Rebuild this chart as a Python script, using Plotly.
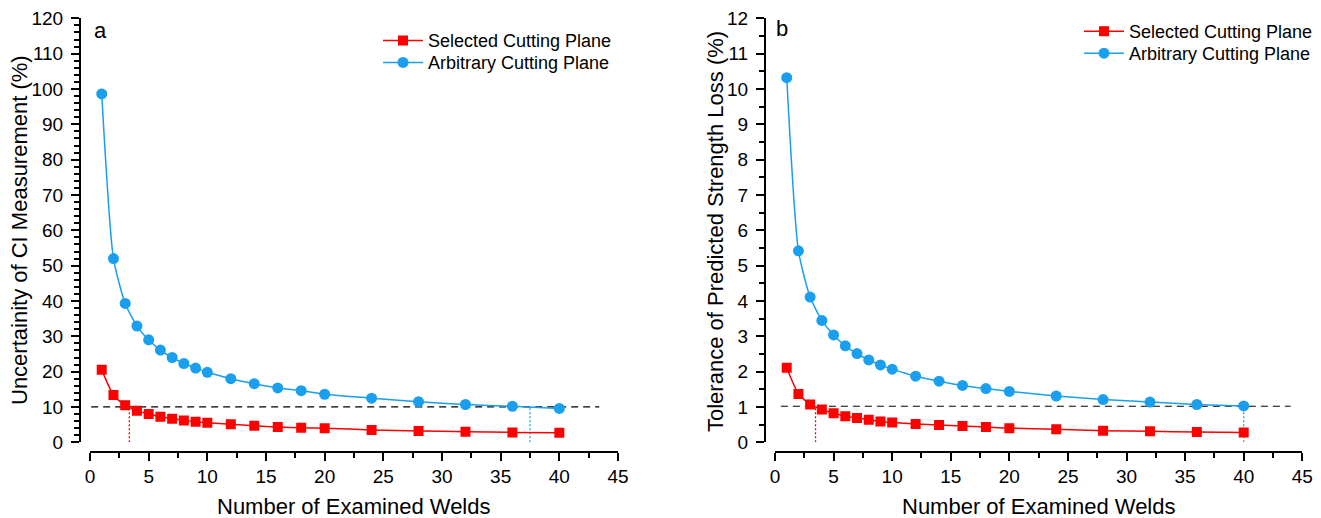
import plotly.graph_objects as go

# ---------------- data ----------------
x_welds = [1, 2, 3, 4, 5, 6, 7, 8, 9, 10, 12, 14, 16, 18, 20, 24, 28, 32, 36, 40]

a_selected = [20.5, 13.4, 10.5, 8.9, 8.0, 7.2, 6.7, 6.2, 5.8, 5.5,
              5.1, 4.7, 4.3, 4.1, 4.0, 3.5, 3.2, 3.0, 2.8, 2.7]
a_arbitrary = [98.6, 52.0, 39.3, 32.9, 29.0, 26.1, 24.0, 22.3, 21.0, 19.8,
               18.0, 16.6, 15.4, 14.6, 13.6, 12.5, 11.5, 10.7, 10.2, 9.6]

b_selected = [2.11, 1.37, 1.07, 0.93, 0.82, 0.74, 0.69, 0.64, 0.59, 0.56,
              0.52, 0.49, 0.46, 0.43, 0.40, 0.37, 0.33, 0.31, 0.29, 0.28]
b_arbitrary = [10.32, 5.42, 4.11, 3.45, 3.04, 2.73, 2.51, 2.33, 2.19, 2.07,
               1.87, 1.73, 1.61, 1.52, 1.44, 1.31, 1.21, 1.14, 1.07, 1.03]

series_names = ["Selected Cutting Plane", "Arbitrary Cutting Plane"]
panel_labels = ["a", "b"]
x_title = "Number of Examined Welds"
y_titles = ["Uncertainity of CI Measurement (%)", "Tolerance of Predicted Strength Loss (%)"]

x_ticks = [0, 5, 10, 15, 20, 25, 30, 35, 40, 45]
a_y_ticks = [0, 10, 20, 30, 40, 50, 60, 70, 80, 90, 100, 110, 120]
b_y_ticks = [0, 1, 2, 3, 4, 5, 6, 7, 8, 9, 10, 11, 12]

# threshold (dashed) lines and crossing (dotted) markers
a_threshold = 10
a_threshold_x = [0.1, 43.4]
a_cross_selected = 3.35
a_cross_arbitrary = 37.5
b_threshold = 1.02
b_threshold_x = [0.5, 44.0]
b_cross_selected = 3.46
b_cross_arbitrary = 40.0

# ---------------- style ----------------
W, H = 1321, 518
RED = "#FF0000"
BLUE = "#1A9FEF"
FONT = "Arial, Liberation Sans, sans-serif"


def px_x(p):
    return p / W


def px_y(p):
    return 1 - p / H


fig = go.Figure()


def add_series(xa, ya, sel, arb, leg_sel, leg_arb):
    fig.add_trace(go.Scatter(
        x=x_welds, y=sel, name=series_names[0], mode="lines+markers",
        line=dict(color=RED, width=1.5, shape="spline", smoothing=0.6),
        marker=dict(symbol="square", size=10, color=RED, line=dict(width=0)),
        xaxis=xa, yaxis=ya, legend=leg_sel, showlegend=True))
    fig.add_trace(go.Scatter(
        x=x_welds, y=arb, name=series_names[1], mode="lines+markers",
        line=dict(color=BLUE, width=1.5, shape="spline", smoothing=0.6),
        marker=dict(symbol="circle", size=11, color=BLUE, line=dict(width=0)),
        xaxis=xa, yaxis=ya, legend=leg_arb, showlegend=True))


add_series("x", "y", a_selected, a_arbitrary, "legend", "legend2")
add_series("x2", "y2", b_selected, b_arbitrary, "legend3", "legend4")

# reference lines
shapes = []
for xr, yr, thr, tx, cs, ca in [("x", "y", a_threshold, a_threshold_x, a_cross_selected, a_cross_arbitrary),
                                ("x2", "y2", b_threshold, b_threshold_x, b_cross_selected, b_cross_arbitrary)]:
    shapes.append(dict(type="line", xref=xr, yref=yr, x0=tx[0], x1=tx[1], y0=thr, y1=thr,
                       line=dict(color="black", width=1.2, dash="7px,5px"), layer="below"))
    shapes.append(dict(type="line", xref=xr, yref=yr, x0=cs, x1=cs, y0=0, y1=thr,
                       line=dict(color=RED, width=1.3, dash="2px,2px"), layer="below"))
    shapes.append(dict(type="line", xref=xr, yref=yr, x0=ca, x1=ca, y0=0, y1=thr,
                       line=dict(color=BLUE, width=1.3, dash="2px,2px"), layer="below"))

# axis geometry (pixels)
a_xdom = [px_x(90), px_x(618)]
b_xdom = [px_x(775), px_x(1302.3)]
ydom = [px_y(442.3), px_y(18.3)]
xpos = px_y(451.5)

tickfont = dict(family=FONT, size=19, color="black")


def xaxis(dom):
    return dict(domain=dom, range=[0, 45], anchor="free", position=xpos,
                showline=True, linecolor="black", linewidth=2,
                ticks="outside", ticklen=8, tickwidth=2, tickcolor="black",
                tickmode="array", tickvals=x_ticks, tickfont=tickfont,
                minor=dict(tickmode="array", tickvals=[t + 2.5 for t in x_ticks[:-1]],
                           ticks="outside", ticklen=5, tickwidth=2, tickcolor="black"),
                showgrid=False, zeroline=False, fixedrange=True, automargin=False)


def yaxis(rng, ticks, minor_vals, pos):
    return dict(domain=ydom, range=rng, anchor="free", position=pos,
                showline=True, linecolor="black", linewidth=2,
                ticks="outside", ticklen=8, tickwidth=2, tickcolor="black",
                tickmode="array", tickvals=ticks, tickfont=tickfont,
                ticklabelstandoff=4,
                minor=dict(tickmode="array", tickvals=minor_vals,
                           ticks="outside", ticklen=5, tickwidth=2, tickcolor="black"),
                showgrid=False, zeroline=False, fixedrange=True, automargin=False)


a_minor = [v for v in range(2, 120, 2) if v % 10 != 0]
b_minor = [v + 0.5 for v in range(0, 12)]

annotations = []
title_font = dict(family=FONT, size=22, color="black")
for cx, ytx, yty, yt in [(354, 19, 230, y_titles[0]),
                         (1038.7, 715, 232, y_titles[1])]:
    annotations.append(dict(text=x_title, x=px_x(cx), y=px_y(506), xref="paper", yref="paper",
                            showarrow=False, xanchor="center", yanchor="middle", font=title_font))
    annotations.append(dict(text=yt, x=px_x(ytx), y=px_y(yty), xref="paper", yref="paper",
                            showarrow=False, xanchor="center", yanchor="middle", textangle=-90,
                            font=title_font))
for lx, ly, lab in [(100, 31, panel_labels[0]), (782, 28, panel_labels[1])]:
    annotations.append(dict(text=lab, x=px_x(lx), y=px_y(ly), xref="paper", yref="paper",
                            showarrow=False, xanchor="center", yanchor="middle",
                            font=dict(family=FONT, size=22, color="black")))

legend_font = dict(family=FONT, size=18, color="black")


def leg(xp, yp):
    return dict(x=px_x(xp), y=px_y(yp), xanchor="left", yanchor="middle",
                font=legend_font, bgcolor="rgba(0,0,0,0)", borderwidth=0,
                tracegroupgap=0, itemwidth=40)


fig.update_layout(
    width=W, height=H, margin=dict(l=0, r=0, t=0, b=0, pad=0, autoexpand=False),
    paper_bgcolor="white", plot_bgcolor="white",
    xaxis=xaxis(a_xdom), yaxis=yaxis([0, 120], a_y_ticks, a_minor, px_x(80)),
    xaxis2=xaxis(b_xdom), yaxis2=yaxis([0, 12], b_y_ticks, b_minor, px_x(765)),
    legend=leg(378, 40.7), legend2=leg(378, 62.7),
    legend3=leg(1079, 31.5), legend4=leg(1079, 53.5),
    shapes=shapes, annotations=annotations,
)

fig.write_html("out.html", post_script="document.body.style.margin='0px';")
